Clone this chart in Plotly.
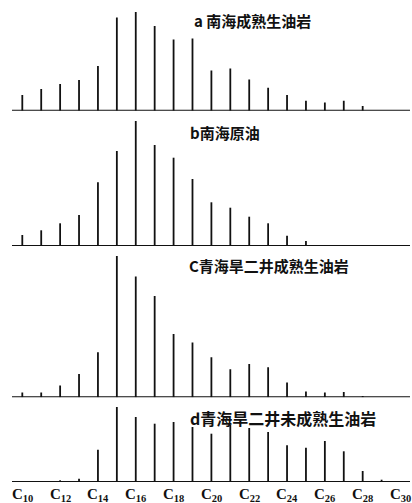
import plotly.graph_objects as go

# Carbon numbers of the n-alkane peaks
carbons = list(range(10, 30))

# Peak heights (relative) for each sample
a_vals = [15.7, 21.7, 26.7, 30.7, 44.7, 93.3, 98.7, 84.7, 71.3, 72.3,
          40.3, 42.3, 31.3, 23.0, 15.7, 10.0, 8.3, 10.0, 4.7, 0.0]
b_vals = [11.0, 15.7, 22.7, 31.0, 63.7, 95.0, 125.0, 101.0, 88.3, 67.0,
          43.7, 38.3, 29.3, 22.7, 10.3, 5.0, 0.5, 0.3, 0.3, 0.3]
c_vals = [4.7, 4.7, 11.7, 23.3, 45.0, 141.3, 120.7, 101.3, 63.3, 54.7,
          40.0, 28.0, 33.3, 30.0, 14.7, 5.7, 4.7, 5.3, 1.3, 0.0]
d_vals = [0.7, 0.7, 1.7, 3.3, 32.3, 75.0, 65.0, 58.3, 60.0, 55.0,
          48.3, 57.3, 54.0, 50.0, 36.7, 34.3, 41.0, 30.7, 11.0, 2.3]

titles = ["a 南海成熟生油岩", "b南海原油", "C青海旱二井成熟生油岩", "d青海旱二井未成熟生油岩"]

tick_carbons = list(range(10, 31, 2))
tick_labels = ["<b>C<sub>%d</sub></b>" % c for c in tick_carbons]

W, H = 412, 503
MB = 21
PH = H - MB  # plot height in px

def frac_y(ypix):
    return (PH - ypix) / PH

def frac_x(xpix):
    return xpix / W

# x axis mapping (px per carbon)
px_per = 18.91
x0 = 10 - 22.3 / px_per
x1 = x0 + W / px_per

panels = [
    # values, baseline pixel, range max, title x, title y, title size
    (a_vals, 110.7, 100, 192, 21, 15),
    (b_vals, 246.0, 126, 188, 132.5, 15),
    (c_vals, 397.3, 142, 187, 265, 15),
    (d_vals, 482.0, 76, 188, 418, 16),
]

fig = go.Figure()
layout = dict(
    width=W, height=H,
    margin=dict(l=0, r=0, t=0, b=MB),
    paper_bgcolor="white", plot_bgcolor="white",
    showlegend=False,
)

annotations = []
for i, (vals, base, rmax, tx, ty, ts) in enumerate(panels):
    yname = "y" if i == 0 else "y%d" % (i + 1)
    ykey = "yaxis" if i == 0 else "yaxis%d" % (i + 1)
    # baseline of each chromatogram
    fig.add_trace(go.Scatter(
        x=[x0 + 12 / px_per, x0 + 410 / px_per], y=[0, 0], mode="lines",
        line=dict(color="#111111", width=2), xaxis="x", yaxis=yname,
        hoverinfo="skip",
    ))
    # peaks as vertical sticks
    xs, ys = [], []
    for c, v in zip(carbons, vals):
        xs += [c, c, None]
        ys += [0, v, None]
    fig.add_trace(go.Scatter(
        x=xs, y=ys, mode="lines",
        line=dict(color="#111111", width=1.8),
        xaxis="x", yaxis=yname,
    ))
    top = base - rmax
    layout[ykey] = dict(
        domain=[max(0.0, frac_y(base)), frac_y(top)],
        range=[0, rmax], anchor="x",
        showgrid=False, zeroline=False, showticklabels=False,
        showline=False, ticks="", fixedrange=True,
    )
    annotations.append(dict(
        text="<b>%s</b>" % titles[i], xref="paper", yref="paper",
        x=frac_x(tx), y=frac_y(ty), xanchor="left", yanchor="middle",
        showarrow=False,
        font=dict(family="Noto Sans CJK SC", size=ts, color="#111111"),
    ))

# carbon-number labels under the bottom axis
for c, lab in zip(tick_carbons, tick_labels):
    annotations.append(dict(
        text=lab, xref="x", yref="paper", x=c, y=frac_y(484),
        xanchor="center", yanchor="top", showarrow=False,
        font=dict(family="Liberation Serif", size=15, color="#111111"),
    ))

layout["xaxis"] = dict(
    range=[x0, x1], anchor="y4", domain=[0, 1],
    tickvals=tick_carbons, showticklabels=False,
    showgrid=False, zeroline=False, showline=False, ticks="",
    fixedrange=True,
)
layout["annotations"] = annotations
fig.update_layout(**layout)

fig.write_html(
    "out.html",
    config={"displayModeBar": False},
    post_script="document.body.style.margin='0';document.body.style.overflow='hidden';",
)
